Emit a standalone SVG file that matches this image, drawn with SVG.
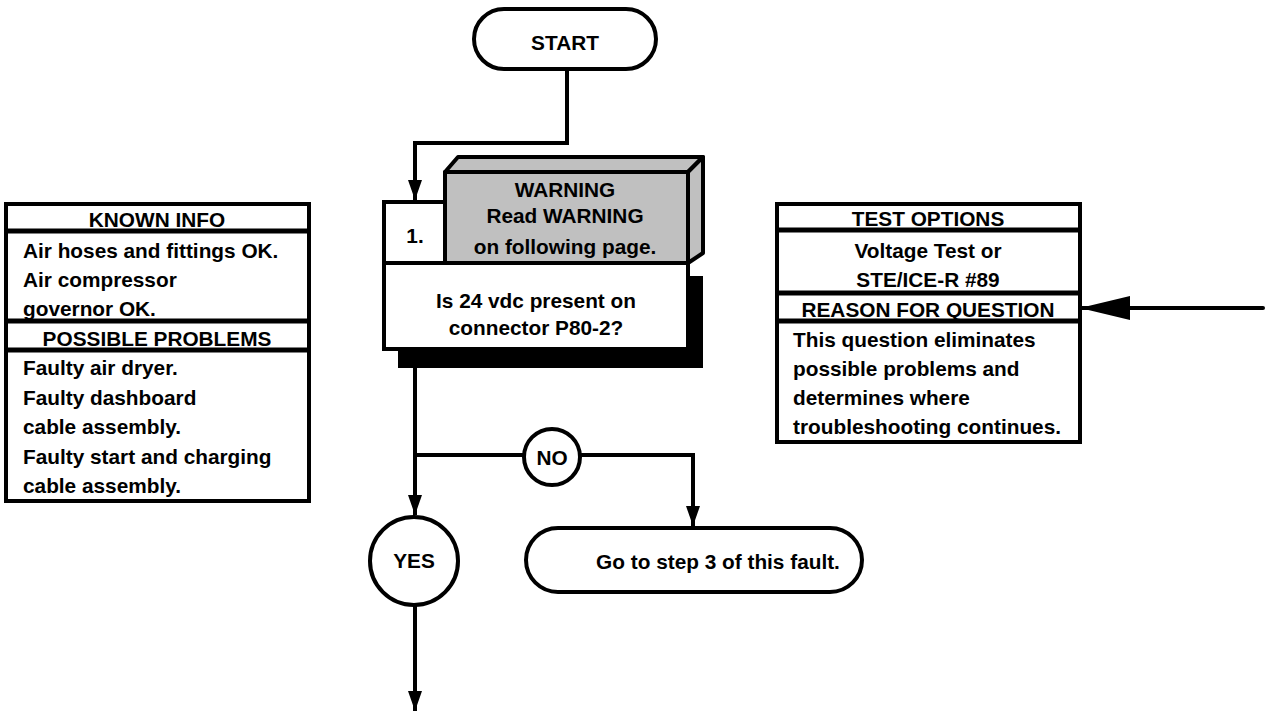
<svg xmlns="http://www.w3.org/2000/svg" width="1268" height="713" viewBox="0 0 1268 713">
<style>
text{font-family:"Liberation Sans",Arial,sans-serif;font-weight:bold;font-size:20.8px;fill:#000}
.c{text-anchor:middle}
.box{fill:#fff;stroke:#000;stroke-width:4}
.gray{fill:#c0c0c0;stroke:#000;stroke-width:4;stroke-linejoin:round}
.ln{fill:none;stroke:#000;stroke-width:4}
.sep{stroke:#000;stroke-width:5}
</style>
<defs>
<marker id="ah" markerUnits="userSpaceOnUse" markerWidth="20" markerHeight="14" refX="20" refY="7" orient="auto">
<path d="M0,0 L20,7 L0,14 Z" fill="#000"/>
</marker>
<marker id="ahBig" markerUnits="userSpaceOnUse" markerWidth="50" markerHeight="24" refX="50" refY="12" orient="auto">
<path d="M0,0 L50,12 L0,24 Z" fill="#000"/>
</marker>
</defs>
<rect width="1268" height="713" fill="#fff"/>

<g id="connectors">
<polyline class="ln" points="567,69 567,143 415,143 415,200" marker-end="url(#ah)"/>
<polyline class="ln" points="415,368 415,515" marker-end="url(#ah)"/>
<polyline class="ln" points="415,455 524,455"/>
<polyline class="ln" points="580,455 693,455 693,526" marker-end="url(#ah)"/>
<polyline class="ln" points="415,605 415,711" marker-end="url(#ah)"/>
<polyline class="ln" points="1263,308 1080,308" stroke-linecap="round" marker-end="url(#ahBig)"/>
</g>

<g id="start">
<rect class="box" x="474" y="9" width="182" height="60" rx="30"/>
<text class="c" x="565" y="50">START</text>
</g>

<g id="step1">
<rect x="398" y="276" width="305" height="92" fill="#000"/>
<polygon class="gray" points="445,172 458,157 703,157 688,172"/>
<polygon class="gray" points="688,172 703,157 703,253 688,263"/>
<rect class="gray" x="445" y="172" width="243" height="91"/>
<rect class="box" x="384" y="202" width="61" height="61"/>
<rect class="box" x="384" y="263" width="304" height="86"/>
<text class="c" x="415" y="243">1.</text>
<text class="c" x="565" y="197">WARNING</text>
<text class="c" x="565" y="223">Read WARNING</text>
<text class="c" x="565" y="254">on following page.</text>
<text class="c" x="536" y="308">Is 24 vdc present on</text>
<text class="c" x="536" y="335">connector P80-2?</text>
</g>

<g id="known-info">
<rect class="box" x="6" y="204" width="303" height="297"/>
<line class="sep" x1="6" y1="231" x2="309" y2="231"/>
<line class="sep" x1="6" y1="321" x2="309" y2="321"/>
<line class="sep" x1="6" y1="350" x2="309" y2="350"/>
<text class="c" x="157" y="227">KNOWN INFO</text>
<text x="23" y="258">Air hoses and fittings OK.</text>
<text x="23" y="287">Air compressor</text>
<text x="23" y="316">governor OK.</text>
<text class="c" x="157" y="346">POSSIBLE PROBLEMS</text>
<text x="23" y="375">Faulty air dryer.</text>
<text x="23" y="405">Faulty dashboard</text>
<text x="23" y="434">cable assembly.</text>
<text x="23" y="464">Faulty start and charging</text>
<text x="23" y="493">cable assembly.</text>
</g>

<g id="test-options">
<rect class="box" x="777" y="204" width="303" height="238"/>
<line class="sep" x1="777" y1="230" x2="1080" y2="230"/>
<line class="sep" x1="777" y1="293" x2="1080" y2="293"/>
<line class="sep" x1="777" y1="321" x2="1080" y2="321"/>
<text class="c" x="928" y="226">TEST OPTIONS</text>
<text class="c" x="928" y="258">Voltage Test or</text>
<text class="c" x="928" y="287">STE/ICE-R #89</text>
<text class="c" x="928" y="317">REASON FOR QUESTION</text>
<text x="793" y="347">This question eliminates</text>
<text x="793" y="376">possible problems and</text>
<text x="793" y="405">determines where</text>
<text x="793" y="434">troubleshooting continues.</text>
</g>

<g id="no">
<circle class="box" cx="552" cy="457" r="28"/>
<text class="c" x="552" y="465">NO</text>
</g>

<g id="yes">
<circle class="box" cx="414" cy="561" r="44"/>
<text class="c" x="414" y="568">YES</text>
</g>

<g id="goto-step3">
<rect class="box" x="526" y="528" width="336" height="64" rx="32"/>
<text class="c" x="718" y="569">Go to step 3 of this fault.</text>
</g>
</svg>
